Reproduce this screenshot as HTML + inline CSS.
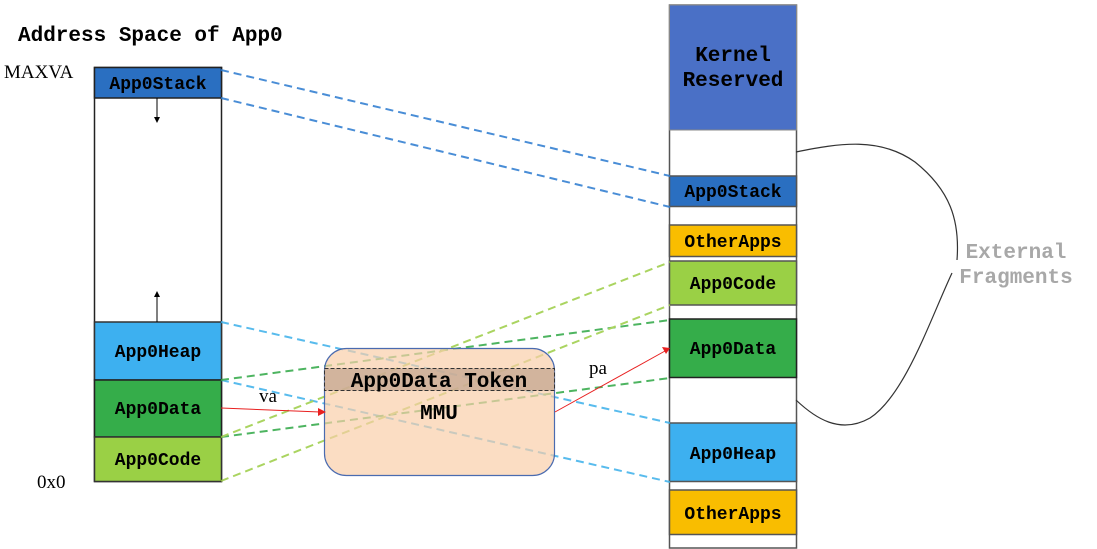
<!DOCTYPE html>
<html><head><meta charset="utf-8"><style>
html,body{margin:0;padding:0;background:#fff;}
svg{display:block}
.m{font-family:"Liberation Mono",monospace;font-weight:bold;}
.s{font-family:"Liberation Serif",serif;}
</style></head><body>
<svg width="1097" height="549" viewBox="0 0 1097 549" xmlns="http://www.w3.org/2000/svg">
<text x="18" y="41" class="m" font-size="21">Address Space of App0</text>
<text x="4" y="78" class="s" font-size="19">MAXVA</text>
<text x="37" y="488" class="s" font-size="19">0x0</text>

<!-- left column -->
<rect x="94.5" y="67.5" width="127" height="414" fill="#fff" stroke="#222" stroke-width="1.5"/>
<rect x="94.5" y="67.5" width="127" height="30.5" fill="#2a6fc1" stroke="#222" stroke-width="1.5"/>
<rect x="94.5" y="322" width="127" height="58" fill="#3db0f0" stroke="#333" stroke-width="1.5"/>
<rect x="94.5" y="380" width="127" height="57" fill="#35ad4a" stroke="#222" stroke-width="1.5"/>
<rect x="94.5" y="437" width="127" height="44.5" fill="#9ad045" stroke="#333" stroke-width="1.5"/>
<g class="m" font-size="18" text-anchor="middle">
<text x="158" y="89">App0Stack</text>
<text x="158" y="357">App0Heap</text>
<text x="158" y="414">App0Data</text>
<text x="158" y="465">App0Code</text>
</g>
<line x1="157" y1="98" x2="157" y2="118" stroke="#000" stroke-width="1"/>
<polygon points="154,117 160,117 157,123" fill="#000"/>
<line x1="157" y1="322" x2="157" y2="296" stroke="#000" stroke-width="1"/>
<polygon points="154,297 160,297 157,291" fill="#000"/>

<!-- right column -->
<rect x="669.5" y="5" width="127" height="543" fill="#fff" stroke="#555" stroke-width="1.5"/>
<rect x="669.5" y="5" width="127" height="125" fill="#4a70c6" stroke="#888" stroke-width="1"/>
<rect x="669.5" y="176" width="127" height="30.5" fill="#2a6fc1" stroke="#555" stroke-width="1.5"/>
<rect x="669.5" y="225" width="127" height="31.5" fill="#f9bd00" stroke="#555" stroke-width="1.5"/>
<rect x="669.5" y="261" width="127" height="44" fill="#9ad045" stroke="#555" stroke-width="1.5"/>
<rect x="669.5" y="319" width="127" height="58.5" fill="#35ad4a" stroke="#222" stroke-width="1.5"/>
<rect x="669.5" y="423" width="127" height="58.5" fill="#3db0f0" stroke="#555" stroke-width="1.5"/>
<rect x="669.5" y="490" width="127" height="44.5" fill="#f9bd00" stroke="#555" stroke-width="1.5"/>
<g class="m" font-size="18" text-anchor="middle">
<text x="733" y="61" font-size="21">Kernel</text>
<text x="733" y="86" font-size="21">Reserved</text>
<text x="733" y="197">App0Stack</text>
<text x="733" y="247">OtherApps</text>
<text x="733" y="289">App0Code</text>
<text x="733" y="354">App0Data</text>
<text x="733" y="459">App0Heap</text>
<text x="733" y="519">OtherApps</text>
</g>

<!-- dashed connectors -->
<g fill="none" stroke-width="2" stroke-dasharray="8,5" opacity="0.85">
<line x1="221" y1="70" x2="670" y2="176" stroke="#2a7ad0"/>
<line x1="221" y1="98" x2="670" y2="207" stroke="#2a7ad0"/>
<line x1="221" y1="322" x2="670" y2="423" stroke="#3bb0ea"/>
<line x1="221" y1="380" x2="670" y2="482" stroke="#3bb0ea"/>
<line x1="221" y1="380" x2="670" y2="320" stroke="#2fa845"/>
<line x1="221" y1="437" x2="670" y2="378" stroke="#2fa845"/>
<line x1="221" y1="437" x2="670" y2="262" stroke="#9ccd45"/>
<line x1="221" y1="481" x2="670" y2="305" stroke="#9ccd45"/>
</g>

<!-- MMU box (semi-transparent over lines) -->
<rect x="324.5" y="348.5" width="230" height="127" rx="22" fill="#f9cfa9" fill-opacity="0.7" stroke="#4a6bb0" stroke-width="1.2"/>
<rect x="324.5" y="368.5" width="230" height="22" fill="#c4a690" fill-opacity="0.75" stroke="#333" stroke-width="1" stroke-dasharray="4,2"/>
<text x="439" y="387" class="m" font-size="21" text-anchor="middle">App0Data Token</text>
<text x="439" y="419" class="m" font-size="21" text-anchor="middle">MMU</text>

<!-- red arrows -->
<line x1="221" y1="408" x2="320" y2="412" stroke="#e82020" stroke-width="1"/>
<polygon points="318,408 326,412 318,416" fill="#e82020"/>
<line x1="555" y1="412" x2="665" y2="351" stroke="#e82020" stroke-width="1"/>
<polygon points="662,347 670,348 666,354" fill="#e82020"/>
<text x="259" y="402" class="s" font-size="19">va</text>
<text x="589" y="374" class="s" font-size="19">pa</text>

<!-- external fragments curve -->
<path d="M796,152 C840,143 880,137 915,162 C950,190 960,220 957,260" fill="none" stroke="#333" stroke-width="1.2"/>
<path d="M796,400 C815,418 840,435 870,418 C905,395 930,320 952,273" fill="none" stroke="#333" stroke-width="1.2"/>
<text x="1016" y="258" class="m" font-size="21" fill="#a8a8a8" text-anchor="middle">External</text>
<text x="1016" y="283" class="m" font-size="21" fill="#a8a8a8" text-anchor="middle">Fragments</text>
</svg>
</body></html>
